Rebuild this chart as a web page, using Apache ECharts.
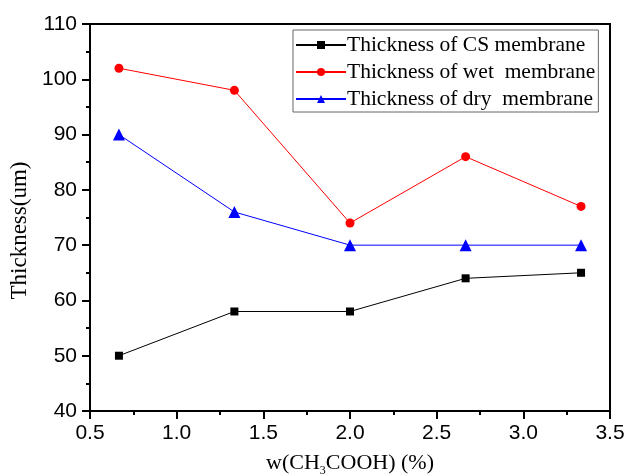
<!DOCTYPE html>
<html><head><meta charset="utf-8">
<script src="https://cdn.jsdelivr.net/npm/echarts@6/dist/echarts.min.js"></script>
<style>html,body{margin:0;padding:0;background:#fff}#c{width:627px;height:476px}</style>
</head><body><div id="c"></div>
<script>
const xValues = [0.667, 1.333, 2.0, 2.667, 3.333];
const csThickness = [50, 58, 58, 64, 65];
const wetThickness = [102, 98, 74, 86, 77];
const dryThickness = [90, 76, 70, 70, 70];
const seriesNames = ['Thickness of CS membrane', 'Thickness of wet  membrane', 'Thickness of dry  membrane'];

const pair = arr => xValues.map((x, i) => [x, arr[i]]);
const chart = echarts.init(document.getElementById('c'), null, {renderer: 'canvas'});
const axisFont = {fontFamily: 'Liberation Sans, Arial', fontSize: 21, color: '#000'};
chart.setOption({
  animation: false,
  backgroundColor: '#fff',
  grid: {left: 90, right: 17, top: 24, bottom: 65, show: true, borderColor: '#000', borderWidth: 2,
         containLabel: false, outerBoundsMode: 'none'},
  legend: {
    orient: 'vertical', left: 293, top: 30, itemWidth: 50, itemHeight: 10, itemGap: 5,
    padding: [4, 3, 2, 2], borderColor: '#666', borderWidth: 1,
    textStyle: {fontFamily: 'Liberation Serif, Times New Roman', fontSize: 21.5, color: '#000', padding: [0, 0, 0, -4]},
    data: seriesNames
  },
  xAxis: {
    type: 'value', min: 0.5, max: 3.5, interval: 0.5,
    axisLine: {lineStyle: {color: '#000', width: 2}},
    axisTick: {inside: false, length: 8, lineStyle: {color: '#000', width: 2}},
    minorTick: {show: true, splitNumber: 2, length: 4, lineStyle: {color: '#000', width: 2}},
    splitLine: {show: false},
    axisLabel: Object.assign({margin: 12, formatter: v => v.toFixed(1)}, axisFont),
    name: '{a|w(CH}{s|3}{a|COOH) (%)}', nameLocation: 'middle', nameGap: 38,
    nameTextStyle: {rich: {
      a: {fontFamily: 'Liberation Serif, Times New Roman', fontSize: 22, color: '#000'},
      s: {fontFamily: 'Liberation Serif, Times New Roman', fontSize: 12, color: '#000', verticalAlign: 'bottom', padding: [16, 0, 0, 0]}
    }}
  },
  yAxis: {
    type: 'value', min: 40, max: 110, interval: 10,
    axisLine: {lineStyle: {color: '#000', width: 2}},
    axisTick: {inside: false, length: 8, lineStyle: {color: '#000', width: 2}},
    minorTick: {show: true, splitNumber: 2, length: 4, lineStyle: {color: '#000', width: 2}},
    splitLine: {show: false},
    axisLabel: Object.assign({margin: 13}, axisFont),
    name: 'Thickness(um)', nameLocation: 'middle', nameGap: 56, nameRotate: 90,
    nameTextStyle: {fontFamily: 'Liberation Serif, Times New Roman', fontSize: 23, color: '#000', padding: [0, 26, 0, 0]}
  },
  series: [
    {name: seriesNames[0], type: 'line', data: pair(csThickness), symbol: 'rect', symbolSize: 8,
     itemStyle: {color: '#000'}, lineStyle: {color: '#000', width: 1}},
    {name: seriesNames[1], type: 'line', data: pair(wetThickness), symbol: 'circle', symbolSize: 9,
     itemStyle: {color: '#ff0000'}, lineStyle: {color: '#ff0000', width: 1}},
    {name: seriesNames[2], type: 'line', data: pair(dryThickness), symbol: 'triangle', symbolSize: 12,
     itemStyle: {color: '#0000ff'}, lineStyle: {color: '#0000ff', width: 1}}
  ]
});
</script></body></html>
